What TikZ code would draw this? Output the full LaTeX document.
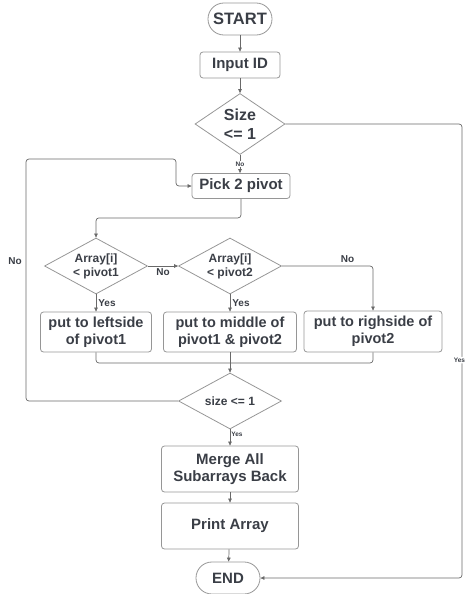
\documentclass[tikz,border=0pt]{standalone}
\usepackage{fontspec}
\setmainfont{Liberation Sans}
\usetikzlibrary{shapes.geometric, arrows.meta, positioning, calc}
\definecolor{txtGray}{RGB}{58,62,70}
\definecolor{edgeGray}{RGB}{150,150,150}
\definecolor{lineGray}{RGB}{105,105,105}

\begin{document}
\begin{tikzpicture}[x=1pt, y=-1pt,
    box/.style={rectangle, rounded corners=3pt, draw=edgeGray, line width=0.8pt,
                text=txtGray, font=\fontsize{14.5}{17}\selectfont\bfseries,
                align=center, inner sep=0pt},
    bigbox/.style={box, font=\fontsize{15}{17.5}\selectfont\bfseries},
    term/.style={bigbox, rounded corners=15.9pt, minimum width=64pt, minimum height=32pt},
    dec/.style={diamond, aspect=1.84, draw=edgeGray, line width=0.8pt, text=txtGray,
                align=center, inner sep=0pt, minimum width=103pt, minimum height=56pt,
                font=\fontsize{12}{14}\selectfont\bfseries},
    arr/.style={-{Triangle[length=4pt, width=3.6pt]}, draw=lineGray, line width=0.7pt},
    lin/.style={draw=lineGray, line width=0.7pt},
    lbl/.style={text=txtGray, font=\fontsize{10}{12}\selectfont\bfseries, inner sep=1pt},
    smalllbl/.style={lbl, font=\fontsize{6.5}{8}\selectfont\bfseries, fill=white},
  ]
    \useasboundingbox (0,0) rectangle (465,594);

    % Start
    \node[term, font=\fontsize{16.5}{19}\selectfont\bfseries] (start) at (240,19) {START};
    \node[bigbox, minimum width=80pt, minimum height=26pt] (input) at (240,65) {Input ID};
    \node[dec, aspect=1.5, minimum width=90pt, minimum height=61pt,
          font=\fontsize{16}{19}\selectfont\bfseries] (size) at (240,124) {Size\\<= 1};
    \node[bigbox, minimum width=98pt, minimum height=25pt] (pick) at (241,186) {Pick 2 pivot};

    % Partition
    \node[dec] (lt1) at (96,266) {Array[i]\\< pivot1};
    \node[dec] (lt2) at (230,266) {Array[i]\\< pivot2};
    \node[box, minimum width=111pt, minimum height=40pt] (left) at (96,332) {put to leftside\\of pivot1};
    \node[box, minimum width=133pt, minimum height=40pt] (mid) at (230,332) {put to middle of\\pivot1 \& pivot2};
    \node[box, minimum width=138pt, minimum height=41pt] (right) at (373,331.5) {put to righside of\\pivot2};

    % Merge
    \node[dec] (again) at (230,401) {size <= 1};
    \node[bigbox, minimum width=137pt, minimum height=46pt] (merge) at (230,469) {Merge All\\Subarrays Back};
    \node[bigbox, minimum width=137pt, minimum height=46pt] (print) at (230,526) {Print Array};
    \node[term] (end) at (228,578) {END};

    \coordinate (rail) at (462,0);
    \coordinate (back) at (26,0);
    \coordinate (turn) at (176,159);
    \coordinate (join) at (230,363);

    % Arrows
    \draw[arr] (start) -- (input);
    \draw[arr] (input) -- (size);
    \draw[arr] (size.south) -- node[smalllbl]{No} (size.south |- pick.north);
    \draw[arr, rounded corners=3pt] (size.east) -- (size.east -| rail)
      -- node[smalllbl, pos=0.52, xshift=-2.5pt]{Yes} (end.east -| rail) -- (end.east);
    \draw[arr, rounded corners=3pt] (pick.south) -- ++(0,19) -| (lt1.north);
    \draw[arr] (lt1.east) -- node[lbl, below=1pt]{No} (lt2.west);
    \draw[arr, rounded corners=3pt] (lt2.east) -| node[lbl, pos=0.36, above=2pt]{No} (right.north);
    \draw[arr] (lt1.south) -- node[lbl, right=1pt]{Yes} (left.north);
    \draw[arr] (lt2.south) -- node[lbl, right=1pt]{Yes} (mid.north);
    \draw[lin, rounded corners=3pt] (left.south) |- (join);
    \draw[lin, rounded corners=3pt] (right.south) |- (join);
    \draw[arr] (mid.south) -- (again.north);
    \draw[arr] (again) -- node[smalllbl, right, pos=0.3, fill=none]{Yes} (merge);
    \draw[arr] (merge) -- (print);
    \draw[arr] (print) -- (end);

    % Loop back
    \draw[arr, rounded corners=3pt] (again.west) -- (again.west -| back)
      -- node[lbl, left=3pt, pos=0.58]{No} (back |- turn) -- (turn) |- (pick.west);
  \end{tikzpicture}
\end{document}
